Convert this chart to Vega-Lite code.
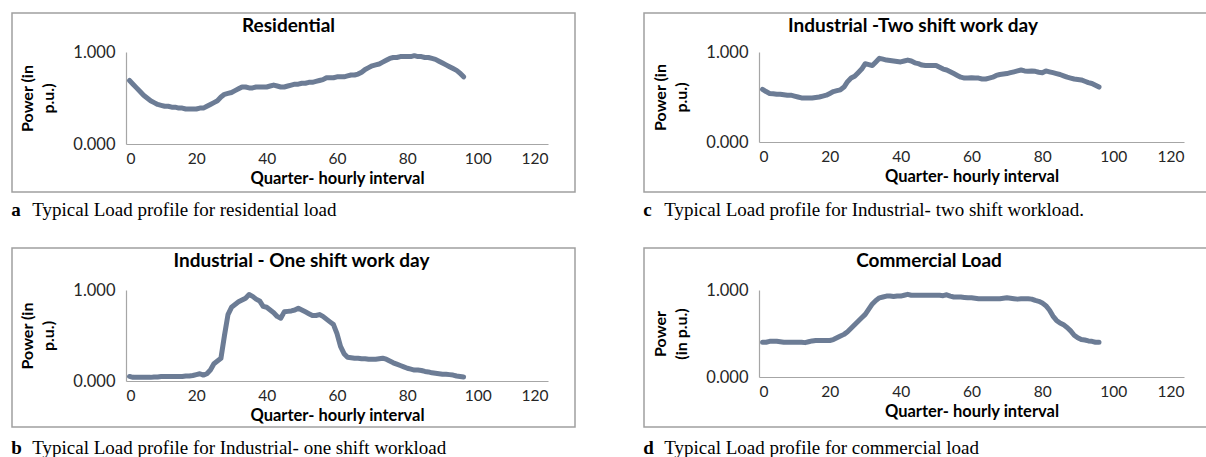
{
  "$schema": "https://vega.github.io/schema/vega-lite/v6.json",
  "background": "white",
  "padding": {"left": 11, "top": 12, "right": 0, "bottom": 0},
  "config": {
    "view": {"stroke": "#a0a0a0", "strokeWidth": 1.5},
    "axis": {"labelFont": "Lato", "labelFontSize": 16.5, "labelColor": "#262626", "titleFont": "Lato", "titleFontSize": 16.5, "titleFontWeight": "bold", "titleColor": "#000000", "domainColor": "#a6a6a6", "domainWidth": 1.2, "ticks": false, "grid": false},
    "axisY": {"titleFontSize": 16, "titleLineHeight": 21, "titlePadding": 16, "labelPadding": 11},
    "axisX": {"labelFontSize": 15.5, "labelPadding": 7, "titlePadding": 4},
    "title": {"font": "Lato", "fontSize": 19, "fontWeight": "bold", "color": "#000000"},
    "line": {"color": "#6c7c95", "strokeWidth": 5, "strokeCap": "round", "strokeJoin": "round"}
  },
  "datasets": {
    "res": [
      {"interval":1,"power":0.69},{"interval":2,"power":0.65},{"interval":3,"power":0.61},{"interval":4,"power":0.57},{"interval":5,"power":0.53},{"interval":6,"power":0.5},{"interval":7,"power":0.47},{"interval":8,"power":0.45},{"interval":9,"power":0.43},{"interval":10,"power":0.42},{"interval":11,"power":0.41},{"interval":12,"power":0.41},{"interval":13,"power":0.4},{"interval":14,"power":0.4},{"interval":15,"power":0.39},{"interval":16,"power":0.39},{"interval":17,"power":0.38},{"interval":18,"power":0.38},{"interval":19,"power":0.38},{"interval":20,"power":0.38},{"interval":21,"power":0.39},{"interval":22,"power":0.39},{"interval":23,"power":0.41},{"interval":24,"power":0.43},{"interval":25,"power":0.45},{"interval":26,"power":0.47},{"interval":27,"power":0.51},{"interval":28,"power":0.54},{"interval":29,"power":0.55},{"interval":30,"power":0.56},{"interval":31,"power":0.58},{"interval":32,"power":0.6},{"interval":33,"power":0.62},{"interval":34,"power":0.62},{"interval":35,"power":0.61},{"interval":36,"power":0.61},{"interval":37,"power":0.62},{"interval":38,"power":0.62},{"interval":39,"power":0.62},{"interval":40,"power":0.62},{"interval":41,"power":0.63},{"interval":42,"power":0.64},{"interval":43,"power":0.63},{"interval":44,"power":0.62},{"interval":45,"power":0.62},{"interval":46,"power":0.63},{"interval":47,"power":0.64},{"interval":48,"power":0.65},{"interval":49,"power":0.65},{"interval":50,"power":0.66},{"interval":51,"power":0.66},{"interval":52,"power":0.67},{"interval":53,"power":0.67},{"interval":54,"power":0.68},{"interval":55,"power":0.69},{"interval":56,"power":0.7},{"interval":57,"power":0.72},{"interval":58,"power":0.72},{"interval":59,"power":0.72},{"interval":60,"power":0.73},{"interval":61,"power":0.73},{"interval":62,"power":0.73},{"interval":63,"power":0.74},{"interval":64,"power":0.75},{"interval":65,"power":0.75},{"interval":66,"power":0.76},{"interval":67,"power":0.78},{"interval":68,"power":0.81},{"interval":69,"power":0.83},{"interval":70,"power":0.85},{"interval":71,"power":0.86},{"interval":72,"power":0.87},{"interval":73,"power":0.89},{"interval":74,"power":0.91},{"interval":75,"power":0.93},{"interval":76,"power":0.94},{"interval":77,"power":0.94},{"interval":78,"power":0.95},{"interval":79,"power":0.95},{"interval":80,"power":0.95},{"interval":81,"power":0.95},{"interval":82,"power":0.96},{"interval":83,"power":0.95},{"interval":84,"power":0.95},{"interval":85,"power":0.94},{"interval":86,"power":0.94},{"interval":87,"power":0.93},{"interval":88,"power":0.92},{"interval":89,"power":0.9},{"interval":90,"power":0.88},{"interval":91,"power":0.86},{"interval":92,"power":0.84},{"interval":93,"power":0.82},{"interval":94,"power":0.8},{"interval":95,"power":0.77},{"interval":96,"power":0.73}
    ],
    "two": [
      {"interval":1,"power":0.585},{"interval":2,"power":0.56},{"interval":3,"power":0.54},{"interval":4,"power":0.535},{"interval":5,"power":0.53},{"interval":6,"power":0.53},{"interval":7,"power":0.525},{"interval":8,"power":0.52},{"interval":9,"power":0.52},{"interval":10,"power":0.51},{"interval":11,"power":0.5},{"interval":12,"power":0.49},{"interval":13,"power":0.49},{"interval":14,"power":0.49},{"interval":15,"power":0.49},{"interval":16,"power":0.495},{"interval":17,"power":0.5},{"interval":18,"power":0.51},{"interval":19,"power":0.52},{"interval":20,"power":0.54},{"interval":21,"power":0.56},{"interval":22,"power":0.57},{"interval":23,"power":0.58},{"interval":24,"power":0.61},{"interval":25,"power":0.67},{"interval":26,"power":0.71},{"interval":27,"power":0.73},{"interval":28,"power":0.77},{"interval":29,"power":0.81},{"interval":30,"power":0.87},{"interval":31,"power":0.86},{"interval":32,"power":0.85},{"interval":33,"power":0.89},{"interval":34,"power":0.93},{"interval":35,"power":0.92},{"interval":36,"power":0.91},{"interval":37,"power":0.905},{"interval":38,"power":0.9},{"interval":39,"power":0.895},{"interval":40,"power":0.89},{"interval":41,"power":0.9},{"interval":42,"power":0.91},{"interval":43,"power":0.9},{"interval":44,"power":0.88},{"interval":45,"power":0.87},{"interval":46,"power":0.855},{"interval":47,"power":0.85},{"interval":48,"power":0.85},{"interval":49,"power":0.85},{"interval":50,"power":0.85},{"interval":51,"power":0.83},{"interval":52,"power":0.81},{"interval":53,"power":0.8},{"interval":54,"power":0.78},{"interval":55,"power":0.76},{"interval":56,"power":0.74},{"interval":57,"power":0.72},{"interval":58,"power":0.71},{"interval":59,"power":0.71},{"interval":60,"power":0.715},{"interval":61,"power":0.71},{"interval":62,"power":0.71},{"interval":63,"power":0.7},{"interval":64,"power":0.7},{"interval":65,"power":0.71},{"interval":66,"power":0.72},{"interval":67,"power":0.74},{"interval":68,"power":0.75},{"interval":69,"power":0.755},{"interval":70,"power":0.76},{"interval":71,"power":0.77},{"interval":72,"power":0.78},{"interval":73,"power":0.79},{"interval":74,"power":0.8},{"interval":75,"power":0.79},{"interval":76,"power":0.785},{"interval":77,"power":0.79},{"interval":78,"power":0.785},{"interval":79,"power":0.775},{"interval":80,"power":0.77},{"interval":81,"power":0.79},{"interval":82,"power":0.78},{"interval":83,"power":0.77},{"interval":84,"power":0.76},{"interval":85,"power":0.75},{"interval":86,"power":0.735},{"interval":87,"power":0.72},{"interval":88,"power":0.71},{"interval":89,"power":0.7},{"interval":90,"power":0.695},{"interval":91,"power":0.69},{"interval":92,"power":0.675},{"interval":93,"power":0.66},{"interval":94,"power":0.65},{"interval":95,"power":0.63},{"interval":96,"power":0.61}
    ],
    "one": [
      {"interval":1,"power":0.05},{"interval":2,"power":0.04},{"interval":3,"power":0.04},{"interval":4,"power":0.04},{"interval":5,"power":0.04},{"interval":6,"power":0.04},{"interval":7,"power":0.04},{"interval":8,"power":0.045},{"interval":9,"power":0.045},{"interval":10,"power":0.05},{"interval":11,"power":0.05},{"interval":12,"power":0.05},{"interval":13,"power":0.05},{"interval":14,"power":0.05},{"interval":15,"power":0.05},{"interval":16,"power":0.05},{"interval":17,"power":0.055},{"interval":18,"power":0.055},{"interval":19,"power":0.06},{"interval":20,"power":0.07},{"interval":21,"power":0.08},{"interval":22,"power":0.065},{"interval":23,"power":0.08},{"interval":24,"power":0.12},{"interval":25,"power":0.19},{"interval":26,"power":0.22},{"interval":27,"power":0.25},{"interval":28,"power":0.5},{"interval":29,"power":0.73},{"interval":30,"power":0.81},{"interval":31,"power":0.84},{"interval":32,"power":0.87},{"interval":33,"power":0.89},{"interval":34,"power":0.91},{"interval":35,"power":0.95},{"interval":36,"power":0.93},{"interval":37,"power":0.9},{"interval":38,"power":0.88},{"interval":39,"power":0.82},{"interval":40,"power":0.81},{"interval":41,"power":0.78},{"interval":42,"power":0.75},{"interval":43,"power":0.71},{"interval":44,"power":0.69},{"interval":45,"power":0.76},{"interval":46,"power":0.765},{"interval":47,"power":0.77},{"interval":48,"power":0.78},{"interval":49,"power":0.8},{"interval":50,"power":0.78},{"interval":51,"power":0.76},{"interval":52,"power":0.74},{"interval":53,"power":0.72},{"interval":54,"power":0.72},{"interval":55,"power":0.73},{"interval":56,"power":0.71},{"interval":57,"power":0.68},{"interval":58,"power":0.65},{"interval":59,"power":0.62},{"interval":60,"power":0.52},{"interval":61,"power":0.38},{"interval":62,"power":0.3},{"interval":63,"power":0.26},{"interval":64,"power":0.255},{"interval":65,"power":0.25},{"interval":66,"power":0.25},{"interval":67,"power":0.245},{"interval":68,"power":0.245},{"interval":69,"power":0.24},{"interval":70,"power":0.24},{"interval":71,"power":0.24},{"interval":72,"power":0.245},{"interval":73,"power":0.25},{"interval":74,"power":0.24},{"interval":75,"power":0.22},{"interval":76,"power":0.2},{"interval":77,"power":0.185},{"interval":78,"power":0.17},{"interval":79,"power":0.155},{"interval":80,"power":0.14},{"interval":81,"power":0.13},{"interval":82,"power":0.12},{"interval":83,"power":0.12},{"interval":84,"power":0.115},{"interval":85,"power":0.105},{"interval":86,"power":0.1},{"interval":87,"power":0.09},{"interval":88,"power":0.085},{"interval":89,"power":0.08},{"interval":90,"power":0.075},{"interval":91,"power":0.075},{"interval":92,"power":0.07},{"interval":93,"power":0.065},{"interval":94,"power":0.055},{"interval":95,"power":0.05},{"interval":96,"power":0.045}
    ],
    "com": [
      {"interval":1,"power":0.4},{"interval":2,"power":0.4},{"interval":3,"power":0.41},{"interval":4,"power":0.41},{"interval":5,"power":0.41},{"interval":6,"power":0.405},{"interval":7,"power":0.4},{"interval":8,"power":0.4},{"interval":9,"power":0.4},{"interval":10,"power":0.4},{"interval":11,"power":0.4},{"interval":12,"power":0.4},{"interval":13,"power":0.395},{"interval":14,"power":0.405},{"interval":15,"power":0.415},{"interval":16,"power":0.42},{"interval":17,"power":0.42},{"interval":18,"power":0.42},{"interval":19,"power":0.42},{"interval":20,"power":0.42},{"interval":21,"power":0.43},{"interval":22,"power":0.45},{"interval":23,"power":0.47},{"interval":24,"power":0.49},{"interval":25,"power":0.52},{"interval":26,"power":0.56},{"interval":27,"power":0.6},{"interval":28,"power":0.64},{"interval":29,"power":0.68},{"interval":30,"power":0.72},{"interval":31,"power":0.78},{"interval":32,"power":0.84},{"interval":33,"power":0.88},{"interval":34,"power":0.91},{"interval":35,"power":0.92},{"interval":36,"power":0.93},{"interval":37,"power":0.93},{"interval":38,"power":0.925},{"interval":39,"power":0.93},{"interval":40,"power":0.93},{"interval":41,"power":0.94},{"interval":42,"power":0.95},{"interval":43,"power":0.94},{"interval":44,"power":0.94},{"interval":45,"power":0.94},{"interval":46,"power":0.94},{"interval":47,"power":0.94},{"interval":48,"power":0.94},{"interval":49,"power":0.94},{"interval":50,"power":0.94},{"interval":51,"power":0.94},{"interval":52,"power":0.935},{"interval":53,"power":0.945},{"interval":54,"power":0.93},{"interval":55,"power":0.92},{"interval":56,"power":0.92},{"interval":57,"power":0.92},{"interval":58,"power":0.915},{"interval":59,"power":0.91},{"interval":60,"power":0.91},{"interval":61,"power":0.905},{"interval":62,"power":0.9},{"interval":63,"power":0.9},{"interval":64,"power":0.9},{"interval":65,"power":0.9},{"interval":66,"power":0.9},{"interval":67,"power":0.9},{"interval":68,"power":0.9},{"interval":69,"power":0.905},{"interval":70,"power":0.91},{"interval":71,"power":0.905},{"interval":72,"power":0.9},{"interval":73,"power":0.895},{"interval":74,"power":0.9},{"interval":75,"power":0.9},{"interval":76,"power":0.9},{"interval":77,"power":0.895},{"interval":78,"power":0.88},{"interval":79,"power":0.87},{"interval":80,"power":0.85},{"interval":81,"power":0.82},{"interval":82,"power":0.77},{"interval":83,"power":0.7},{"interval":84,"power":0.65},{"interval":85,"power":0.62},{"interval":86,"power":0.6},{"interval":87,"power":0.57},{"interval":88,"power":0.53},{"interval":89,"power":0.48},{"interval":90,"power":0.45},{"interval":91,"power":0.43},{"interval":92,"power":0.425},{"interval":93,"power":0.415},{"interval":94,"power":0.41},{"interval":95,"power":0.4},{"interval":96,"power":0.4}
    ]
  },
  "vconcat": [
    {
      "hconcat": [
        {
          "title": {"text": "a", "orient": "bottom", "anchor": "start", "font": "Liberation Serif", "fontSize": 19, "fontWeight": "bold", "offset": -19},
          "vconcat": [
            {
              "title": {"text": "Typical Load profile for residential load", "orient": "bottom", "anchor": "start", "font": "Liberation Serif", "fontSize": 19, "fontWeight": "normal", "dx": 21, "offset": 8},
              "vconcat": [
                {
                  "width": 563, "height": 179,
                  "title": {"text": "Residential", "offset": -23, "dx": -5},
                  "data": {"name": "res"},
                  "mark": "line",
                  "encoding": {
                    "x": {"field": "interval", "type": "quantitative", "scale": {"domain": [0, 120], "range": [114, 536], "nice": false}, "axis": {"values": [0, 20, 40, 60, 80, 100, 120], "format": "d", "offset": -48, "title": "Quarter- hourly interval"}},
                    "y": {"field": "power", "type": "quantitative", "scale": {"domain": [0, 1], "range": [131, 39], "nice": false}, "axis": {"values": [0, 1], "format": ".3f", "offset": -114, "title": ["Power (in", "p.u.)"]}}
                  }
                }
              ]
            }
          ]
        },
        {
          "title": {"text": "c", "orient": "bottom", "anchor": "start", "font": "Liberation Serif", "fontSize": 19, "fontWeight": "bold", "offset": -19},
          "vconcat": [
            {
              "title": {"text": "Typical Load profile for Industrial- two shift workload.", "orient": "bottom", "anchor": "start", "font": "Liberation Serif", "fontSize": 19, "fontWeight": "normal", "dx": 21, "offset": 8},
              "vconcat": [
                {
                  "width": 570, "height": 179,
                  "title": {"text": "Industrial -Two shift work day", "offset": -23, "dx": -16},
                  "data": {"name": "two"},
                  "mark": "line",
                  "encoding": {
                    "x": {"field": "interval", "type": "quantitative", "scale": {"domain": [0, 120], "range": [115, 540], "nice": false}, "axis": {"values": [0, 20, 40, 60, 80, 100, 120], "format": "d", "offset": -50, "title": "Quarter- hourly interval"}},
                    "y": {"field": "power", "type": "quantitative", "scale": {"domain": [0, 1], "range": [129, 39], "nice": false}, "axis": {"values": [0, 1], "format": ".3f", "offset": -115, "title": ["Power (in", "p.u.)"]}}
                  }
                }
              ]
            }
          ]
        }
      ],
      "spacing": 67
    },
    {
      "hconcat": [
        {
          "title": {"text": "b", "orient": "bottom", "anchor": "start", "font": "Liberation Serif", "fontSize": 19, "fontWeight": "bold", "offset": -19},
          "vconcat": [
            {
              "title": {"text": "Typical Load profile for Industrial- one shift workload", "orient": "bottom", "anchor": "start", "font": "Liberation Serif", "fontSize": 19, "fontWeight": "normal", "dx": 21, "offset": 11},
              "vconcat": [
                {
                  "width": 563, "height": 179,
                  "title": {"text": "Industrial - One shift work day", "offset": -23, "dx": 8},
                  "data": {"name": "one"},
                  "mark": "line",
                  "encoding": {
                    "x": {"field": "interval", "type": "quantitative", "scale": {"domain": [0, 120], "range": [114, 536], "nice": false}, "axis": {"values": [0, 20, 40, 60, 80, 100, 120], "format": "d", "offset": -46, "title": "Quarter- hourly interval"}},
                    "y": {"field": "power", "type": "quantitative", "scale": {"domain": [0, 1], "range": [133, 42], "nice": false}, "axis": {"values": [0, 1], "format": ".3f", "offset": -114, "title": ["Power (in", "p.u.)"]}}
                  }
                }
              ]
            }
          ]
        },
        {
          "title": {"text": "d", "orient": "bottom", "anchor": "start", "font": "Liberation Serif", "fontSize": 19, "fontWeight": "bold", "offset": -19},
          "vconcat": [
            {
              "title": {"text": "Typical Load profile for commercial load", "orient": "bottom", "anchor": "start", "font": "Liberation Serif", "fontSize": 19, "fontWeight": "normal", "dx": 21, "offset": 11},
              "vconcat": [
                {
                  "width": 570, "height": 179,
                  "title": {"text": "Commercial Load", "offset": -23},
                  "data": {"name": "com"},
                  "mark": "line",
                  "encoding": {
                    "x": {"field": "interval", "type": "quantitative", "scale": {"domain": [0, 120], "range": [115, 540], "nice": false}, "axis": {"values": [0, 20, 40, 60, 80, 100, 120], "format": "d", "offset": -50, "title": "Quarter- hourly interval"}},
                    "y": {"field": "power", "type": "quantitative", "scale": {"domain": [0, 1], "range": [129, 42], "nice": false}, "axis": {"values": [0, 1], "format": ".3f", "offset": -115, "title": ["Power", "(in p.u.)"]}}
                  }
                }
              ]
            }
          ]
        }
      ],
      "spacing": 67
    }
  ],
  "spacing": 27
}
